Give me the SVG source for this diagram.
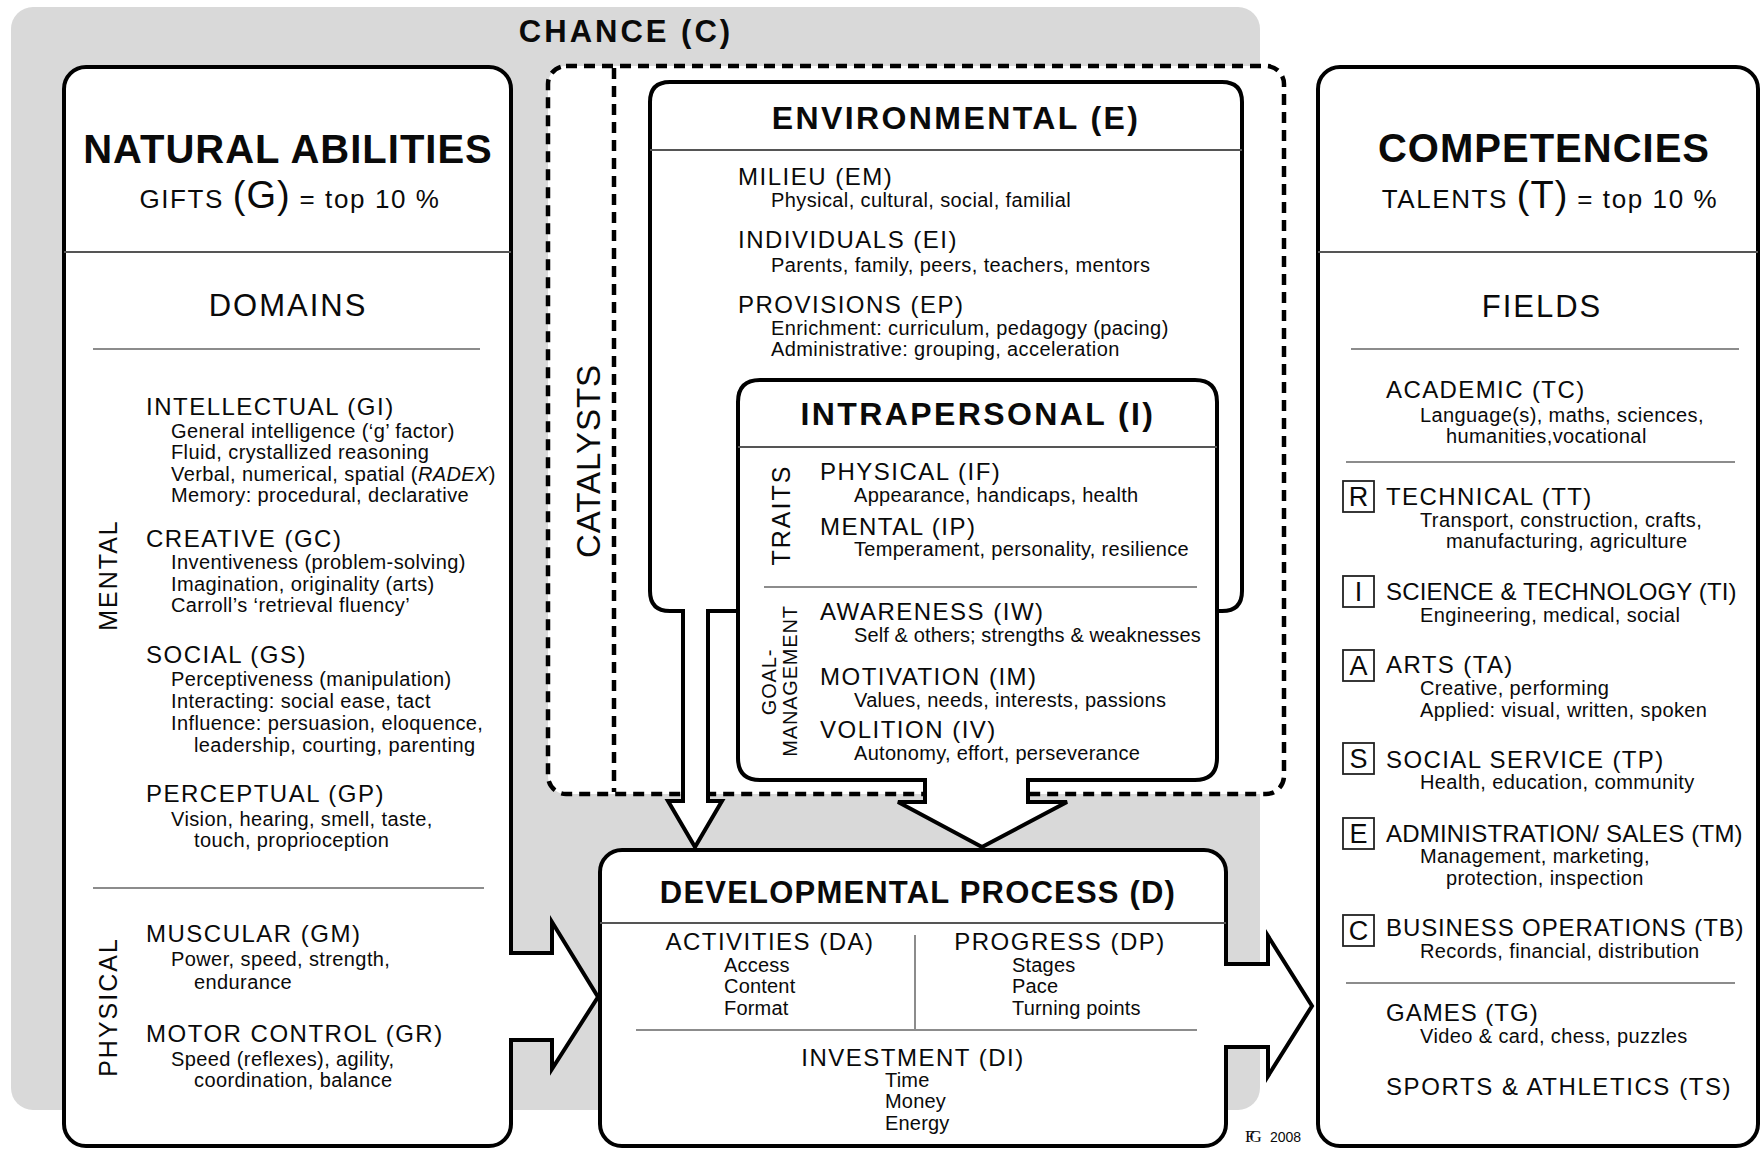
<svg xmlns="http://www.w3.org/2000/svg" width="1762" height="1149" viewBox="0 0 1762 1149">
<style>
.box{fill:#fff;stroke:#000;stroke-width:4;stroke-linejoin:miter}
.dash{fill:#fff;stroke:#000;stroke-width:4.5;stroke-dasharray:11 7}
.dashl{fill:none;stroke:#000;stroke-width:4.5;stroke-dasharray:11 7}
.div{stroke:#555;stroke-width:2;fill:none}
.thin{stroke:#666;stroke-width:1.5;fill:none}
.lbox{fill:#fff;stroke:#222;stroke-width:1.8}
text{font-family:"Liberation Sans",Arial,Helvetica,sans-serif;fill:#0a0a0a}
.title{font-weight:bold;font-size:40px;letter-spacing:1px}
.bt{font-weight:bold;font-size:32px;letter-spacing:2.4px}
.h{font-size:24px;letter-spacing:1.5px}
.hc{font-size:24px;letter-spacing:1.4px}
.s{font-size:20px;letter-spacing:0.4px}
.si{font-size:20px;letter-spacing:0.3px}
.sd{font-size:20px;letter-spacing:0.2px}
.dom{font-size:31px;letter-spacing:2px}
.v{font-size:25px;letter-spacing:2px}
.gm{font-size:20px;letter-spacing:0.8px}
.let{font-size:27px;text-anchor:middle}
.mid{text-anchor:middle}
</style>

<!-- CHANCE background -->
<g id="chance">
<rect x="11" y="7" width="1249" height="1103" rx="22" fill="#d9d9d9"/>
<text x="626" y="42" class="mid" style="font-weight:bold;font-size:31px;letter-spacing:3px">CHANCE (C)</text>
</g>

<!-- CATALYSTS dashed region -->
<g id="catalysts">
<rect class="dash" x="548" y="66" width="736" height="728" rx="18"/>
<line class="dashl" x1="614" y1="68" x2="614" y2="792"/>
<text transform="translate(600,461) rotate(-90)" class="mid" style="font-size:33px;letter-spacing:1px">CATALYSTS</text>
</g>

<!-- ENVIRONMENTAL -->
<g id="environmental">
<path class="box" d="M738,611 H708 V801 H722 L695,847 L668,801 H683 V611 H670 Q650,611 650,591 V102 Q650,82 670,82 H1222 Q1242,82 1242,102 V591 Q1242,611 1222,611 H1217"/>
<line class="div" x1="650" y1="150" x2="1242" y2="150"/>
<text x="956" y="129" class="bt mid">ENVIRONMENTAL (E)</text>
<text x="738" y="185" class="h">MILIEU (EM)</text>
<text x="771" y="207" class="s">Physical, cultural, social, familial</text>
<text x="738" y="248" class="h">INDIVIDUALS (EI)</text>
<text x="771" y="272" class="s">Parents, family, peers, teachers, mentors</text>
<text x="738" y="313" class="h">PROVISIONS (EP)</text>
<text x="771" y="335" class="s">Enrichment: curriculum, pedagogy (pacing)</text>
<text x="771" y="356" class="s">Administrative: grouping, acceleration</text>
</g>

<!-- INTRAPERSONAL -->
<g id="intrapersonal">
<path class="box" d="M925,780 H760 Q738,780 738,758 V402 Q738,380 760,380 H1195 Q1217,380 1217,402 V758 Q1217,780 1195,780 H1028 V802 H1067 L982,847 L898,802 H925 Z"/>
<line class="div" x1="738" y1="447" x2="1217" y2="447"/>
<text x="978" y="425" class="bt mid">INTRAPERSONAL (I)</text>
<text transform="translate(790,515) rotate(-90)" class="v mid">TRAITS</text>
<text x="820" y="480" class="h">PHYSICAL (IF)</text>
<text x="854" y="502" class="si">Appearance, handicaps, health</text>
<text x="820" y="535" class="h">MENTAL (IP)</text>
<text x="854" y="556" class="si">Temperament, personality, resilience</text>
<line class="thin" x1="764" y1="587" x2="1197" y2="587"/>
<text transform="translate(776,682) rotate(-90)" class="gm mid">GOAL-</text>
<text transform="translate(797,681) rotate(-90)" class="gm mid">MANAGEMENT</text>
<text x="820" y="620" class="h">AWARENESS (IW)</text>
<text x="854" y="642" class="si" textLength="347" lengthAdjust="spacing">Self &amp; others; strengths &amp; weaknesses</text>
<text x="820" y="685" class="h">MOTIVATION (IM)</text>
<text x="854" y="707" class="si">Values, needs, interests, passions</text>
<text x="820" y="738" class="h">VOLITION (IV)</text>
<text x="854" y="760" class="si">Autonomy, effort, perseverance</text>
</g>

<!-- NATURAL ABILITIES -->
<g id="natural-abilities">
<rect class="box" x="64" y="67" width="447" height="1079" rx="22"/>
<line class="div" x1="64" y1="252" x2="511" y2="252"/>
<text x="288" y="163" class="title mid">NATURAL ABILITIES</text>
<text x="290" y="208" class="mid" style="font-size:26px;letter-spacing:1.6px">GIFTS <tspan style="font-size:38px;letter-spacing:1px">(G)</tspan> = top 10 %</text>
<text x="288" y="316" class="dom mid">DOMAINS</text>
<line class="thin" x1="93" y1="349" x2="480" y2="349"/>
<text transform="translate(117,575) rotate(-90)" class="v mid">MENTAL</text>
<text x="146" y="415" class="h">INTELLECTUAL (GI)</text>
<text x="171" y="438" class="s">General intelligence (‘g’ factor)</text>
<text x="171" y="459" class="s">Fluid, crystallized reasoning</text>
<text x="171" y="481" class="s">Verbal, numerical, spatial (<tspan font-style="italic">RADEX</tspan>)</text>
<text x="171" y="502" class="s">Memory: procedural, declarative</text>
<text x="146" y="547" class="h">CREATIVE (GC)</text>
<text x="171" y="569" class="s">Inventiveness (problem-solving)</text>
<text x="171" y="591" class="s">Imagination, originality (arts)</text>
<text x="171" y="612" class="s">Carroll’s ‘retrieval fluency’</text>
<text x="146" y="663" class="h">SOCIAL (GS)</text>
<text x="171" y="686" class="s">Perceptiveness (manipulation)</text>
<text x="171" y="708" class="s">Interacting: social ease, tact</text>
<text x="171" y="730" class="s">Influence: persuasion, eloquence,</text>
<text x="194" y="752" class="s">leadership, courting, parenting</text>
<text x="146" y="802" class="h">PERCEPTUAL (GP)</text>
<text x="171" y="826" class="s">Vision, hearing, smell, taste,</text>
<text x="194" y="847" class="s">touch, proprioception</text>
<line class="thin" x1="93" y1="888" x2="484" y2="888"/>
<text transform="translate(117,1007) rotate(-90)" class="v mid">PHYSICAL</text>
<text x="146" y="942" class="h">MUSCULAR (GM)</text>
<text x="171" y="966" class="s">Power, speed, strength,</text>
<text x="194" y="989" class="s">endurance</text>
<text x="146" y="1042" class="h">MOTOR CONTROL (GR)</text>
<text x="171" y="1066" class="s">Speed (reflexes), agility,</text>
<text x="194" y="1087" class="s">coordination, balance</text>
</g>

<!-- DEVELOPMENTAL PROCESS -->
<g id="developmental">
<rect class="box" x="600" y="850" width="626" height="296" rx="22"/>
<line class="div" x1="600" y1="923" x2="1226" y2="923"/>
<text x="918" y="903" class="mid" style="font-weight:bold;font-size:31px;letter-spacing:1.2px">DEVELOPMENTAL PROCESS (D)</text>
<line class="thin" x1="915" y1="935" x2="915" y2="1029"/>
<line class="thin" x1="636" y1="1030" x2="1197" y2="1030"/>
<text x="770" y="950" class="h mid">ACTIVITIES (DA)</text>
<text x="724" y="972" class="sd">Access</text>
<text x="724" y="993" class="sd">Content</text>
<text x="724" y="1015" class="sd">Format</text>
<text x="1060" y="950" class="h mid">PROGRESS (DP)</text>
<text x="1012" y="972" class="sd">Stages</text>
<text x="1012" y="993" class="sd">Pace</text>
<text x="1012" y="1015" class="sd">Turning points</text>
<text x="913" y="1066" class="h mid">INVESTMENT (DI)</text>
<text x="885" y="1087" class="sd">Time</text>
<text x="885" y="1108" class="sd">Money</text>
<text x="885" y="1130" class="sd">Energy</text>
</g>

<!-- COMPETENCIES -->
<g id="competencies">
<rect class="box" x="1318" y="67" width="440" height="1079" rx="22"/>
<line class="div" x1="1318" y1="252" x2="1758" y2="252"/>
<text x="1544" y="162" class="title mid">COMPETENCIES</text>
<text x="1550" y="208" class="mid" style="font-size:26px;letter-spacing:1.6px">TALENTS <tspan style="font-size:38px;letter-spacing:1px">(T)</tspan> = top 10 %</text>
<text x="1542" y="317" class="dom mid">FIELDS</text>
<line class="thin" x1="1351" y1="349" x2="1739" y2="349"/>
<text x="1386" y="398" class="hc">ACADEMIC (TC)</text>
<text x="1420" y="422" class="s">Language(s), maths, sciences,</text>
<text x="1446" y="443" class="s">humanities,vocational</text>
<line class="thin" x1="1346" y1="462" x2="1735" y2="462"/>
<rect class="lbox" x="1343" y="481" width="31" height="31"/>
<text x="1358.5" y="506" class="let">R</text>
<text x="1386" y="505" class="hc">TECHNICAL (TT)</text>
<text x="1420" y="527" class="s">Transport, construction, crafts,</text>
<text x="1446" y="548" class="s">manufacturing, agriculture</text>
<rect class="lbox" x="1343" y="576" width="31" height="31"/>
<text x="1358.5" y="601" class="let">I</text>
<text x="1386" y="600" class="hc" textLength="352" lengthAdjust="spacing">SCIENCE &amp; TECHNOLOGY (TI)</text>
<text x="1420" y="622" class="s">Engineering, medical, social</text>
<rect class="lbox" x="1343" y="650" width="31" height="31"/>
<text x="1358.5" y="675" class="let">A</text>
<text x="1386" y="673" class="hc">ARTS (TA)</text>
<text x="1420" y="695" class="s">Creative, performing</text>
<text x="1420" y="717" class="s">Applied: visual, written, spoken</text>
<rect class="lbox" x="1343" y="743" width="31" height="31"/>
<text x="1358.5" y="768" class="let">S</text>
<text x="1386" y="768" class="hc">SOCIAL SERVICE (TP)</text>
<text x="1420" y="789" class="s">Health, education, community</text>
<rect class="lbox" x="1343" y="818" width="31" height="31"/>
<text x="1358.5" y="843" class="let">E</text>
<text x="1386" y="842" class="hc" textLength="358" lengthAdjust="spacing">ADMINISTRATION/ SALES (TM)</text>
<text x="1420" y="863" class="s">Management, marketing,</text>
<text x="1446" y="885" class="s">protection, inspection</text>
<rect class="lbox" x="1343" y="915" width="31" height="31"/>
<text x="1358.5" y="940" class="let">C</text>
<text x="1386" y="936" class="hc" textLength="359" lengthAdjust="spacing">BUSINESS OPERATIONS (TB)</text>
<text x="1420" y="958" class="s">Records, financial, distribution</text>
<line class="thin" x1="1346" y1="983" x2="1735" y2="983"/>
<text x="1386" y="1021" class="hc" style="letter-spacing:1px">GAMES (TG)</text>
<text x="1420" y="1043" class="s">Video &amp; card, chess, puzzles</text>
<text x="1386" y="1095" class="hc" textLength="346" lengthAdjust="spacing">SPORTS &amp; ATHLETICS (TS)</text>
</g>

<!-- connectors: big arrows -->
<g id="connectors">
<path class="box" d="M509,953 H552 V922 L598,997 L552,1069 V1040 H509"/>
<path class="box" d="M1224,964 H1268 V936 L1312,1006 L1268,1076 V1047 H1224"/>
</g>

<g id="copyright">
<text x="1245" y="1142" style="font-family:'Liberation Serif',serif;font-size:17px;letter-spacing:-5px">FG</text>
<text x="1270" y="1142" style="font-size:14px">2008</text>
</g>
</svg>
